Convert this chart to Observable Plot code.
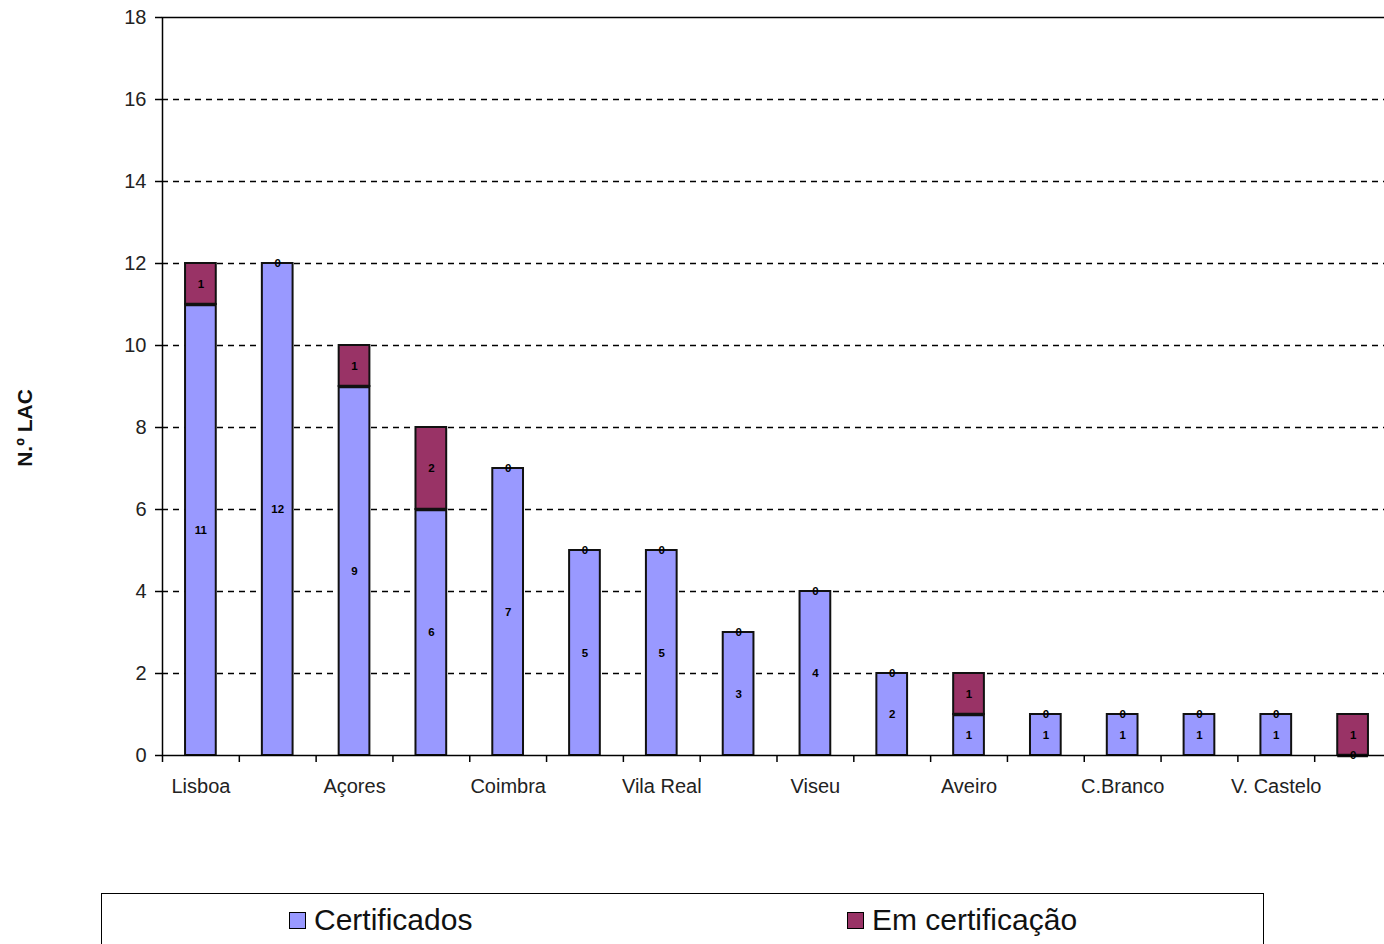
<!DOCTYPE html>
<html>
<head>
<meta charset="utf-8">
<script src="https://cdn.jsdelivr.net/npm/d3@7"></script>
<script src="https://cdn.jsdelivr.net/npm/@observablehq/plot@0.6"></script>
<style>
  html, body { margin: 0; padding: 0; background: #fff; overflow: hidden; }
  #wrap { position: relative; width: 1384px; height: 944px; overflow: hidden; font-family: "Liberation Sans", Arial, sans-serif; }
  #chart { position: absolute; left: 0; top: 0; width: 1400px; }
  #chart svg { max-width: none !important; }
  #ytitle { position: absolute; left: 25px; top: 428px; transform: translate(-50%, -50%) rotate(-90deg); font-size: 21px; font-weight: bold; color: #111; white-space: nowrap; }
  #legend { position: absolute; left: 101px; top: 893px; width: 1163px; height: 90px; border: 1.5px solid #000; box-sizing: border-box; }
  .item { position: absolute; top: 9px; font-size: 30px; color: #111; display: flex; align-items: center; white-space: nowrap; }
  .sw { width: 17px; height: 17px; border: 1.5px solid #000; margin-right: 8px; box-sizing: border-box; }
</style>
</head>
<body>
<div id="wrap">
  <div id="chart"></div>
  <div id="ytitle"></div>
  <div id="legend"></div>
</div>
<script>
// Regions (only every other one is labelled on the axis)
const regions = ["Lisboa", "Porto", "Açores", "Setúbal", "Coimbra", "Faro", "Vila Real", "Leiria",
                 "Viseu", "Braga", "Aveiro", "Santarém", "C.Branco", "Évora", "V. Castelo", "Madeira"];
const tickLabels = ["Lisboa", "", "Açores", "", "Coimbra", "", "Vila Real", "",
                    "Viseu", "", "Aveiro", "", "C.Branco", "", "V. Castelo", ""];
const certificados   = [11, 12, 9, 6, 7, 5, 5, 3, 4, 2, 1, 1, 1, 1, 1, 0];
const emCertificacao = [1, 0, 1, 2, 0, 0, 0, 0, 0, 0, 1, 0, 0, 0, 0, 1];
const seriesNames = ["Certificados", "Em certificação"];
const seriesColors = ["#9999FF", "#993366"];
const yTicks = [0, 2, 4, 6, 8, 10, 12, 14, 16, 18];
const gridTicks = [2, 4, 6, 8, 10, 12, 14, 16];
const yTitle = "N.º LAC";

const table = regions.map((r, i) => ({region: r, cert: certificados[i], em: emCertificacao[i]}));
const labelOf = new Map(regions.map((r, i) => [r, tickLabels[i]]));

const W = 1395, H = 800, ML = 162, MR = 4, MT = 17, MB = 45;
const step = (W - ML - MR) / regions.length;

const chart = Plot.plot({
  width: W,
  height: H,
  marginLeft: ML,
  marginRight: MR,
  marginTop: MT,
  marginBottom: MB,
  style: {fontFamily: "'Liberation Sans', Arial, sans-serif", background: "#fff", color: "#222", maxWidth: "none"},
  x: {domain: regions, paddingInner: 0.6, paddingOuter: 0.3, round: false, label: null},
  y: {domain: [0, 18], label: null},
  marks: [
    Plot.ruleY(gridTicks, {stroke: "#000", strokeWidth: 1.3, strokeDasharray: "6,5"}),
    Plot.barY(table.filter(d => d.cert > 0), {
      x: "region", y1: 0, y2: "cert",
      fill: seriesColors[0], stroke: "#111", strokeWidth: 2
    }),
    Plot.barY(table.filter(d => d.em > 0), {
      x: "region", y1: "cert", y2: d => d.cert + d.em,
      fill: seriesColors[1], stroke: "#111", strokeWidth: 2
    }),
    Plot.ruleY(table.filter(d => d.em > 0), {
      x1: "region", x2: "region", y: "cert", stroke: "#111", strokeWidth: 3.5
    }),
    Plot.text(table, {
      x: "region", y: d => d.cert / 2, text: "cert",
      fontSize: 11.5, fontWeight: "bold", fill: "#000"
    }),
    Plot.text(table, {
      x: "region", y: d => d.cert + d.em / 2, text: "em",
      fontSize: 11.5, fontWeight: "bold", fill: "#000"
    }),
    Plot.frame({stroke: "#000", strokeWidth: 1.5}),
    Plot.axisY({ticks: yTicks, tickSize: 7, tickPadding: 9, fontSize: 20, label: null, stroke: "#000", strokeWidth: 1.5}),
    Plot.axisX({tickSize: 0, tickPadding: 23, fontSize: 20, label: null, tickFormat: (d) => labelOf.get(d)}),
    Plot.ruleX(regions, {x: (d) => d, y1: 0, y2: 0, insetBottom: -7, dx: -step / 2, stroke: "#000", strokeWidth: 1.5})
  ]
});
document.getElementById("chart").appendChild(chart);
document.getElementById("ytitle").textContent = yTitle;

const legend = document.getElementById("legend");
const positions = [187, 745];
seriesNames.forEach((name, i) => {
  const it = document.createElement("div");
  it.className = "item";
  it.style.left = positions[i] + "px";
  it.innerHTML = `<span class="sw" style="background:${seriesColors[i]}"></span><span>${name}</span>`;
  legend.appendChild(it);
});
</script>
</body>
</html>
